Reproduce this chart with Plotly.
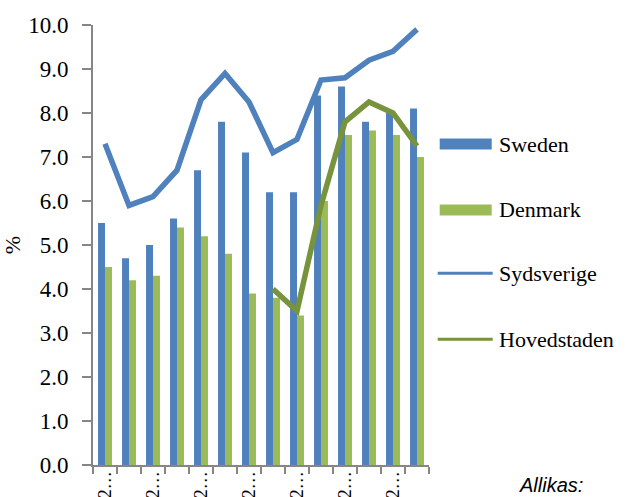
import plotly.graph_objects as go

categories = [str(y) for y in range(2000, 2014)]
tick_text = ["2…" if i % 2 == 0 else "" for i in range(len(categories))]
sweden = [5.5, 4.7, 5.0, 5.6, 6.7, 7.8, 7.1, 6.2, 6.2, 8.4, 8.6, 7.8, 8.0, 8.1]
denmark = [4.5, 4.2, 4.3, 5.4, 5.2, 4.8, 3.9, 3.8, 3.4, 6.0, 7.5, 7.6, 7.5, 7.0]
sydsverige = [7.3, 5.9, 6.1, 6.7, 8.3, 8.9, 8.25, 7.1, 7.4, 8.75, 8.8, 9.2, 9.4, 9.9]
hovedstaden = [None, None, None, None, None, None, None, 4.0, 3.5, 5.9, 7.8, 8.25, 8.0, 7.25]
y_ticks = [i for i in range(11)]

BLUE = "#4F81BD"
GREEN = "#9BBB59"
DGREEN = "#77933C"
GREY = "#868686"
SERIF = "Liberation Serif"

fig = go.Figure()
fig.add_trace(go.Bar(x=categories, y=sweden, name="Sweden", marker=dict(color=BLUE, line=dict(width=0))))
fig.add_trace(go.Bar(x=categories, y=denmark, name="Denmark", marker=dict(color=GREEN, line=dict(width=0))))
fig.add_trace(go.Scatter(x=categories, y=sydsverige, name="Sydsverige", mode="lines",
                         line=dict(color=BLUE, width=5.5)))
fig.add_trace(go.Scatter(x=categories, y=hovedstaden, name="Hovedstaden", mode="lines",
                         line=dict(color=DGREEN, width=5.5)))

L, R, T, B = 93.3, 429.3, 25, 465
W = R - L
H = B - T


def px(x):
    return (x - L) / W


def py(y):
    return (B - y) / H


shapes = []
annotations = []
legend_items = [
    ("Sweden", "bar", BLUE, 144),
    ("Denmark", "bar", GREEN, 210),
    ("Sydsverige", "line", BLUE, 273.3),
    ("Hovedstaden", "line", DGREEN, 339.3),
]
for name, kind, col, yc in legend_items:
    if kind == "bar":
        shapes.append(dict(type="rect", xref="paper", yref="paper", x0=px(440), x1=px(492),
                           y0=py(yc + 5.5), y1=py(yc - 5.5), fillcolor=col, line=dict(width=0)))
    else:
        shapes.append(dict(type="line", xref="paper", yref="paper", x0=px(438), x1=px(493),
                           y0=py(yc), y1=py(yc), line=dict(color=col, width=3)))
    annotations.append(dict(text=name, xref="paper", yref="paper", x=px(497), y=py(yc),
                            xanchor="left", yanchor="middle", showarrow=False,
                            font=dict(family=SERIF, size=22, color="#000000")))

annotations.append(dict(text="<i>Allikas:</i>", xref="paper", yref="paper", x=px(551), y=py(485),
                        xanchor="center", yanchor="middle", showarrow=False,
                        font=dict(family="Liberation Sans", size=20, color="#000000")))

fig.update_layout(
    width=626, height=497,
    margin=dict(l=L, r=626 - R, t=T, b=497 - B, pad=0, autoexpand=False),
    paper_bgcolor="white", plot_bgcolor="white",
    showlegend=False,
    barmode="group", bargap=0.42, bargroupgap=0,
    shapes=shapes, annotations=annotations,
    font=dict(family=SERIF, size=22, color="#000000"),
)
fig.update_xaxes(
    type="category", tickmode="array", tickvals=categories, ticktext=tick_text,
    tickangle=-90, ticks="outside", ticklen=7, tickcolor=GREY, tickwidth=2,
    tickson="boundaries", showline=True, linecolor=GREY, linewidth=2,
    showgrid=False, zeroline=False, tickfont=dict(family=SERIF, size=18),
    automargin=False, ticklabelstandoff=-3,
)
fig.update_yaxes(
    range=[0, 10], tickmode="array", tickvals=y_ticks, ticktext=[f"{v:.1f}" for v in y_ticks],
    ticks="outside", ticklen=9, tickcolor=GREY, tickwidth=2,
    showline=True, linecolor=GREY, linewidth=2, showgrid=False, zeroline=False,
    tickfont=dict(family=SERIF, size=23), automargin=False, ticklabelstandoff=9,
    title=dict(text="%", font=dict(family=SERIF, size=22), standoff=10),
)

fig.write_html("out.html")
